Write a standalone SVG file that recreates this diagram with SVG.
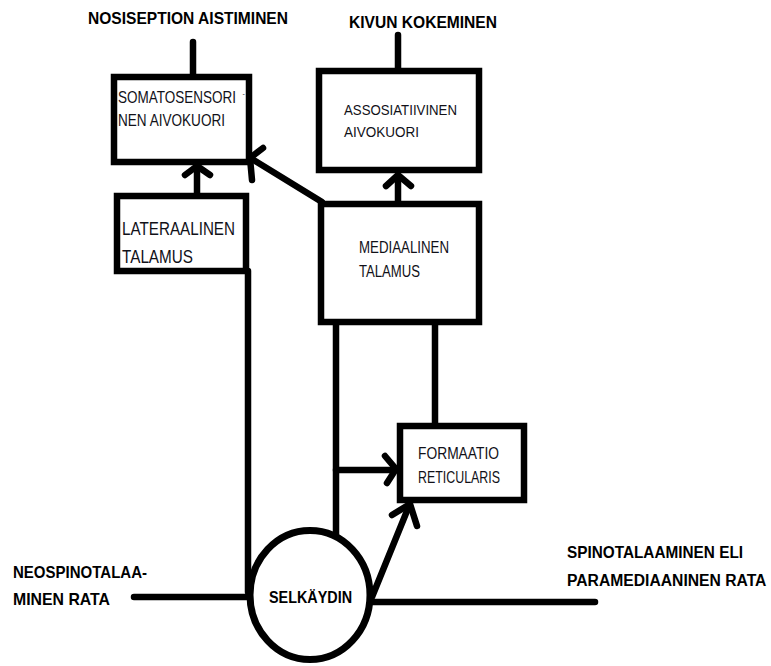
<svg xmlns="http://www.w3.org/2000/svg" width="771" height="666" viewBox="0 0 771 666">
<style>
.box{fill:#fff;stroke:#000;stroke-width:6.5}
.ln{fill:none;stroke:#000;stroke-width:6.5;stroke-linecap:round;stroke-linejoin:round}
.t{font-family:"Liberation Sans",Arial,sans-serif;fill:#111118}
.b{font-family:"Liberation Sans",Arial,sans-serif;font-weight:bold;fill:#000}
</style>
<rect width="771" height="666" fill="#fff"/>
<g id="connectors">
<line class="ln" x1="193" y1="42" x2="193" y2="77"/>
<line class="ln" x1="398" y1="35" x2="398" y2="71"/>
<line class="ln" x1="197" y1="196" x2="197" y2="167"/>
<polyline class="ln" points="185,175 197,166 210,175"/>
<line class="ln" x1="322" y1="202" x2="252" y2="159"/>
<polyline class="ln" points="263,148 250,158 252,180"/>
<line class="ln" x1="398" y1="204" x2="398" y2="176"/>
<polyline class="ln" points="386,186 398,175 411,186"/>
<line class="ln" x1="248" y1="271" x2="248" y2="592"/>
<line class="ln" x1="336" y1="325" x2="336" y2="535"/>
<line class="ln" x1="336" y1="470" x2="395" y2="470"/>
<polyline class="ln" points="385,456 396,469 387,483"/>
<line class="ln" x1="435" y1="325" x2="435" y2="423"/>
<line class="ln" x1="372" y1="597" x2="409" y2="506"/>
<polyline class="ln" points="392,515 410,504 417,526"/>
<line class="ln" x1="134" y1="597" x2="247" y2="597"/>
<line class="ln" x1="372" y1="602" x2="595" y2="602"/>
</g>
<g id="somatosensori">
<rect class="box" x="114" y="77" width="135" height="85"/>
<text class="t" transform="translate(118,103) scale(0.845,1)" font-size="16">SOMATOSENSORI</text>
<text class="t" x="118" y="126" font-size="16" textLength="107" lengthAdjust="spacingAndGlyphs">NEN AIVOKUORI</text>
<text class="t" x="242.5" y="96" font-size="7">-</text>
</g>
<g id="assosiatiivinen">
<rect class="box" x="319" y="71" width="160" height="99"/>
<text class="t" x="344" y="115" font-size="15" textLength="113" lengthAdjust="spacingAndGlyphs">ASSOSIATIIVINEN</text>
<text class="t" x="344" y="137" font-size="15" textLength="75" lengthAdjust="spacingAndGlyphs">AIVOKUORI</text>
</g>
<g id="lateraalinen">
<rect class="box" x="117" y="196" width="129" height="75"/>
<text class="t" x="122" y="235" font-size="18" textLength="113" lengthAdjust="spacingAndGlyphs">LATERAALINEN</text>
<text class="t" x="122" y="263" font-size="18" textLength="71" lengthAdjust="spacingAndGlyphs">TALAMUS</text>
</g>
<g id="mediaalinen">
<rect class="box" x="321" y="204" width="158" height="118"/>
<text class="t" x="359" y="253" font-size="16" textLength="90" lengthAdjust="spacingAndGlyphs">MEDIAALINEN</text>
<text class="t" x="359" y="277" font-size="16" textLength="61" lengthAdjust="spacingAndGlyphs">TALAMUS</text>
</g>
<g id="formaatio">
<rect class="box" x="400" y="426" width="124" height="74"/>
<text class="t" x="418" y="459" font-size="17" textLength="81" lengthAdjust="spacingAndGlyphs">FORMAATIO</text>
<text class="t" x="418" y="483" font-size="17" textLength="82" lengthAdjust="spacingAndGlyphs">RETICULARIS</text>
</g>
<g id="selkaydin">
<ellipse cx="310" cy="595" rx="60" ry="64.5" fill="#fff" stroke="#000" stroke-width="7"/>
<text class="b" x="269" y="603" font-size="16" textLength="83" lengthAdjust="spacingAndGlyphs">SELKÄYDIN</text>
</g>
<g id="labels">
<text class="b" x="88" y="24" font-size="17" textLength="200" lengthAdjust="spacingAndGlyphs">NOSISEPTION AISTIMINEN</text>
<text class="b" x="349" y="28" font-size="17" textLength="148" lengthAdjust="spacingAndGlyphs">KIVUN KOKEMINEN</text>
<text class="b" x="13" y="578" font-size="17" textLength="134" lengthAdjust="spacingAndGlyphs">NEOSPINOTALAA-</text>
<text class="b" x="13" y="605" font-size="17" textLength="97" lengthAdjust="spacingAndGlyphs">MINEN RATA</text>
<text class="b" x="567" y="558" font-size="17" textLength="176" lengthAdjust="spacingAndGlyphs">SPINOTALAAMINEN ELI</text>
<text class="b" transform="translate(567,586) scale(0.923,1)" font-size="17">PARAMEDIAANINEN RATA</text>
</g>
</svg>
